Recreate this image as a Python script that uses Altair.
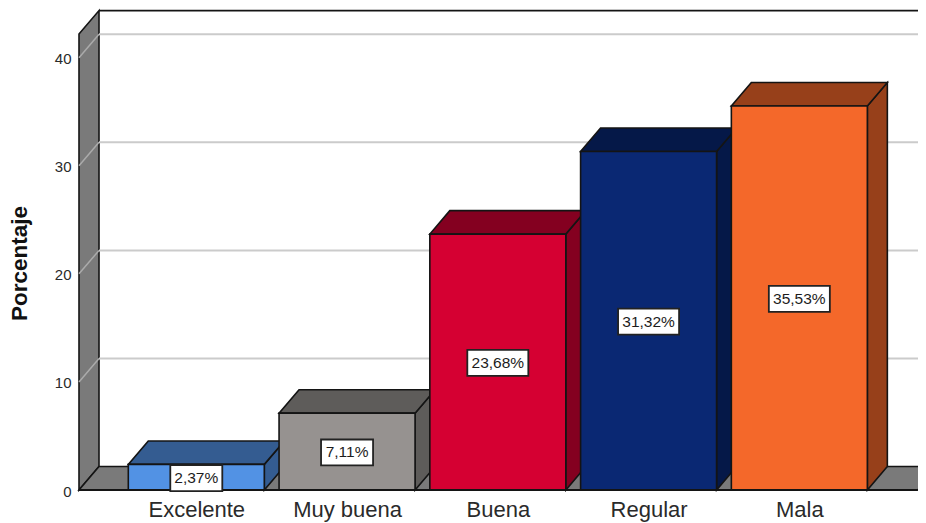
import altair as alt
import pandas as pd

categories = ["Excelente", "Muy buena", "Buena", "Regular", "Mala"]
values = [2.37, 7.11, 23.68, 31.32, 35.53]
labels = ["2,37%", "7,11%", "23,68%", "31,32%", "35,53%"]
front_colors = ["#5292E4", "#969290", "#D50032", "#0A2873", "#F4682A"]
top_colors = ["#345C91", "#5E5C5A", "#840020", "#051848", "#97401A"]
y_ticks = [0, 10, 20, 30, 40]

W, H = 839, 482
XMIN, XMAX = -0.778, 4.787
YMAX = 44.6
BACK_TOP = 44.36
DX, DY = 0.1327, 2.17
HALF = 0.451
WALL_TOP = 42.2
FLOOR_R = 4.786
DARK = "#141414"

xs = alt.Scale(domain=[XMIN, XMAX], nice=False, zero=False)
ys = alt.Scale(domain=[0, YMAX], nice=False, zero=False)

label_expr = "[" + ",".join(f"'{c}'" for c in categories) + "][datum.value]"
x_axis = alt.Axis(values=list(range(len(categories))), labelExpr=label_expr, title=None,
                  domain=False, ticks=False, grid=False, labelFontSize=22,
                  labelFont="Liberation Sans", labelColor="#2a2a2a", labelPadding=9,
                  labelOverlap=False)
y_axis = alt.Axis(values=y_ticks, title="Porcentaje", domain=False, ticks=False, grid=False,
                  labelFontSize=15, labelFont="Liberation Sans", labelColor="#2a2a2a",
                  labelPadding=8, labelOffset=1, titleFontSize=22.5, titleFont="Liberation Sans",
                  titleFontWeight="bold", titleColor="#111111", titleX=-48, titleY=255)


def X(f="x"):
    return alt.X(f"{f}:Q", scale=xs, axis=x_axis)


def Y(f="y"):
    return alt.Y(f"{f}:Q", scale=ys, axis=y_axis)


def vface(x0, x1, y0a, y0b, y1a, y1b, color):
    d = pd.DataFrame({"x": [x0, x1], "y": [y1a, y1b], "y2": [y0a, y0b]})
    return alt.Chart(d).mark_area(color=color, stroke=DARK, strokeWidth=1.6, opacity=1).encode(
        x=X(), y=Y(), y2="y2:Q")


def hface(y0, y1, xa0, xa1, xb0, xb1, color):
    d = pd.DataFrame({"y": [y0, y1], "x": [xa0, xb0], "x2": [xa1, xb1]})
    return alt.Chart(d).mark_area(orient="horizontal", color=color, stroke=DARK, strokeWidth=1.6, opacity=1).encode(
        y=Y(), x=X(), x2="x2:Q")


layers = []

# back wall: left wall and floor
layers.append(vface(XMIN, XMIN + DX, 0, DY, WALL_TOP, BACK_TOP, "#7A7A7A"))
layers.append(hface(0, DY, XMIN, FLOOR_R, XMIN + DX, FLOOR_R + DX, "#7A7A7A"))

# grid lines
for v in y_ticks[1:]:
    wall = pd.DataFrame({"x": [XMIN, XMIN + DX], "y": [v, v + DY]})
    back = pd.DataFrame({"x": [XMIN + DX, XMAX + 0.2], "y": [v + DY, v + DY]})
    layers.append(alt.Chart(wall).mark_line(color="#ABABAB", strokeWidth=1.5).encode(x=X(), y=Y()))
    layers.append(alt.Chart(back).mark_line(color="#CBCBCB", strokeWidth=2).encode(x=X(), y=Y()))

# top edge of the back wall
edge = pd.DataFrame({"x": [XMIN + DX, XMAX + 0.2], "y": [BACK_TOP, BACK_TOP]})
layers.append(alt.Chart(edge).mark_line(color=DARK, strokeWidth=1.6).encode(x=X(), y=Y()))

# bars
for i, v in enumerate(values):
    l, r = i - HALF, i + HALF
    layers.append(vface(r, r + DX, 0, DY, v, v + DY, top_colors[i]))
    layers.append(hface(v, v + DY, l, r, l + DX, r + DX, top_colors[i]))
    front = pd.DataFrame({"x": [l, r], "y": [v, v], "y2": [0, 0]})
    layers.append(alt.Chart(front).mark_area(color=front_colors[i], stroke=DARK, strokeWidth=1.6, opacity=1).encode(
        x=X(), y=Y(), y2="y2:Q"))

# front floor edge
base = pd.DataFrame({"x": [XMIN, FLOOR_R], "y": [0, 0]})
layers.append(alt.Chart(base).mark_line(color=DARK, strokeWidth=1.8).encode(x=X(), y=Y()))

# value labels
box_rows = []
for i, (v, t) in enumerate(zip(values, labels)):
    half_w = (26 if len(t) == 5 else 30.5) / 150.75
    cy = v / 2 - 0.08
    box_rows.append({"x": i - half_w, "x2": i + half_w, "y": cy - 1.2, "y2": cy + 1.2,
                     "cx": i, "cy": cy, "t": t})
boxes = pd.DataFrame(box_rows)
layers.append(alt.Chart(boxes).mark_rect(fill="white", stroke="#222222", strokeWidth=1.8).encode(
    x=X(), x2="x2:Q", y=Y(), y2="y2:Q"))
layers.append(alt.Chart(boxes).mark_text(fontSize=15.5, font="Liberation Sans", color="#1c1c1c",
                                         align="center", baseline="middle").encode(
    x=X("cx"), y=Y("cy"), text="t:N"))

chart = alt.layer(*layers).properties(
    width=W, height=H,
    autosize=alt.AutoSizeParams(type="none"),
    padding={"left": 71, "top": 0, "right": 0, "bottom": 33},
).configure_view(stroke=None)

chart.save("out.html", embed_options={"renderer": "svg", "actions": False})
